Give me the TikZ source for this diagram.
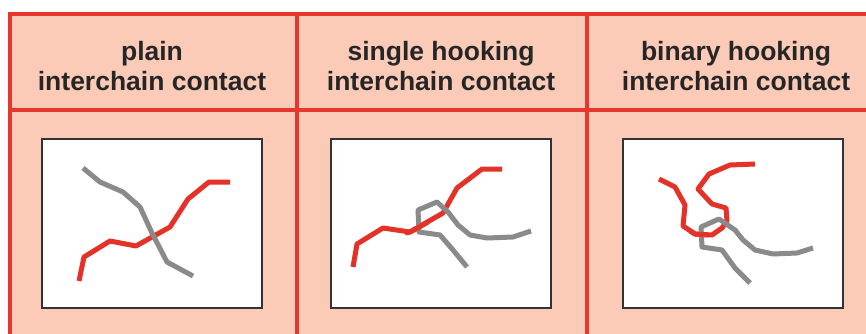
\documentclass[tikz,border=0pt]{standalone}
\usepackage{fontspec}
\setmainfont{Liberation Sans}
\definecolor{salmon}{RGB}{251,203,184}
\definecolor{frame red}{RGB}{229,55,45}
\definecolor{chain red}{RGB}{228,50,40}
\definecolor{chain gray}{RGB}{138,138,138}
\begin{document}
\begin{tikzpicture}[x=1pt, y=-1pt,
    border/.style = {draw=frame red, line width=4pt},
    box/.style = {draw=black!80, fill=white, line width=2pt},
    title/.style = {align=center, text=black!85, font=\fontsize{26.5}{29.5}\selectfont\bfseries},
    redchain/.style = {draw=chain red, line width=5pt, line join=round},
    graychain/.style = {draw=chain gray, line width=5pt, line join=round}]
\useasboundingbox (0,0) rectangle (866,334);
\fill[salmon] (10,14) rectangle (866,334);
\draw[border] (866,14) -- (10,14) -- (10,334);
\draw[border] (10,110) -- (866,110);
\draw[border] (297,14) -- (297,334);
\draw[border] (587,14) -- (587,334);

\node[title] (T1) at (152,66) {plain\\interchain contact};
\node[title] (T2) at (441,66) {single hooking\\interchain contact};
\node[title] (T3) at (736,66) {binary hooking\\interchain contact};

\draw[box] (42,139) rectangle (262,308);
\draw[box] (331,139) rectangle (551,308);
\draw[box] (623,139) rectangle (843,308);

% plain contact
\draw[redchain] (79,281) -- (84,257) -- (110,241) -- (136,246) -- (170,227)
    -- (188,199) -- (209,182) -- (230,182);
\draw[graychain] (83,168) -- (100,182) -- (123,192) -- (140,207) -- (152,233)
    -- (167,262) -- (193,276);

% single hooking
\draw[redchain] (353,267) -- (357,244) -- (383,228) -- (410,232) -- (443,213)
    -- (457,188) -- (482,169) -- (502,169);
\draw[graychain] (467,267) -- (453,250) -- (440,235) -- (419,232) -- (418,210)
    -- (437,202) -- (448,212) -- (458,225) -- (470,235) -- (487,238)
    -- (513,237) -- (531,231);
\draw[redchain] (405,233) -- (410,232) -- (428,222);

% binary hooking
\draw[redchain] (659,179) -- (675,187) -- (685,205) -- (683,226) -- (695,234)
    -- (712,235) -- (722,228) -- (727,221) -- (726,208) -- (712,204)
    -- (698,189) -- (709,174) -- (730,165) -- (755,164);
\draw[graychain] (750,283) -- (735,268) -- (722,250) -- (702,247) -- (701,227)
    -- (719,219) -- (735,230) -- (743,240) -- (755,250) -- (773,254)
    -- (797,253) -- (813,248);
\draw[redchain] (690,231) -- (695,234) -- (708,235);
\end{tikzpicture}
\end{document}
